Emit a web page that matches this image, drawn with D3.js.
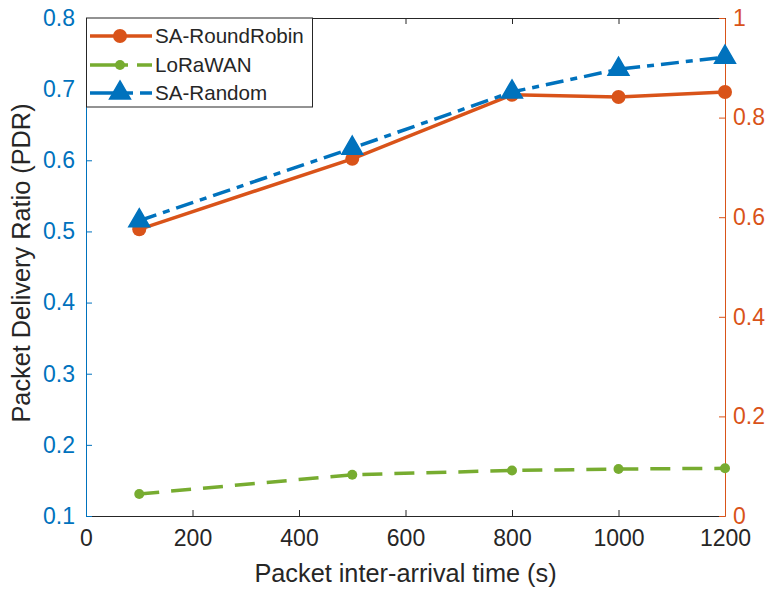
<!DOCTYPE html>
<html><head><meta charset="utf-8">
<script src="https://cdn.jsdelivr.net/npm/d3@7"></script>
<style>body{margin:0;background:#fff;}svg{font-family:"Liberation Sans",Arial,sans-serif;}</style>
</head><body><svg id="c" width="769" height="591"></svg>
<script>
const xValues = [100, 500, 800, 1000, 1200];
const roundRobin = [0.503, 0.602, 0.692, 0.689, 0.696];
const loraWAN = [0.131, 0.158, 0.164, 0.166, 0.167];
const saRandom = [0.515, 0.617, 0.696, 0.728, 0.745];
const xTicks = [0, 200, 400, 600, 800, 1000, 1200];
const yLeftTicks = [0.1, 0.2, 0.3, 0.4, 0.5, 0.6, 0.7, 0.8];
const yRightTicks = [0, 0.2, 0.4, 0.6, 0.8, 1];
const seriesNames = ["SA-RoundRobin", "LoRaWAN", "SA-Random"];

const C_BLUE = "#0072BD", C_ORANGE = "#D95319", C_GREEN = "#77AC30", C_AX = "#262626";
const svg = d3.select("#c");
const L = 86, R = 725, T = 18, B = 516;
const x = d3.scaleLinear().domain([0, 1200]).range([L, R]);
const y = d3.scaleLinear().domain([0.1, 0.8]).range([B, T]);
const y2 = d3.scaleLinear().domain([0, 1]).range([B, T]);
const tk = 6;
const FS = "23px";

// bottom axis
const gx = svg.append("g").attr("transform", `translate(0,${B})`)
  .call(d3.axisBottom(x).tickValues(xTicks).tickSizeInner(-tk).tickSizeOuter(0).tickPadding(14).tickFormat(d3.format("d")));
gx.select(".domain").attr("stroke", C_AX);
gx.selectAll("line").attr("stroke", C_AX);
gx.selectAll("text").attr("fill", C_AX).style("font-size", FS);
// top axis
const gt = svg.append("g").attr("transform", `translate(0,${T})`)
  .call(d3.axisTop(x).tickValues(xTicks).tickSizeInner(-tk).tickSizeOuter(0).tickFormat(""));
gt.select(".domain").attr("stroke", C_AX);
gt.selectAll("line").attr("stroke", C_AX);
// left axis
const gl = svg.append("g").attr("transform", `translate(${L},0)`)
  .call(d3.axisLeft(y).tickValues(yLeftTicks).tickSizeInner(-tk).tickSizeOuter(0).tickPadding(11).tickFormat(d3.format(".1f")));
gl.select(".domain").attr("stroke", C_BLUE);
gl.selectAll("line").attr("stroke", C_BLUE);
gl.selectAll("text").attr("fill", C_BLUE).style("font-size", FS);
// right axis
const gr = svg.append("g").attr("transform", `translate(${R},0)`)
  .call(d3.axisRight(y2).tickValues(yRightTicks).tickSizeInner(-tk).tickSizeOuter(0).tickPadding(8).tickFormat(d => d === 0 || d === 1 ? d3.format("d")(d) : d3.format(".1f")(d)));
gr.select(".domain").attr("stroke", C_ORANGE);
gr.selectAll("line").attr("stroke", C_ORANGE);
gr.selectAll("text").attr("fill", C_ORANGE).style("font-size", FS);

// labels
svg.append("text").attr("x", (L + R) / 2 + 0).attr("y", 582).attr("text-anchor", "middle")
  .attr("fill", C_AX).style("font-size", "25.3px").text("Packet inter-arrival time (s)");
svg.append("text").attr("transform", `translate(30,263) rotate(-90)`).attr("text-anchor", "middle")
  .attr("fill", C_AX).style("font-size", "25.3px").text("Packet Delivery Ratio (PDR)");

const line = d3.line().x((d, i) => x(xValues[i])).y(d => y(d));
const series = [
  {vals: roundRobin, color: C_ORANGE, dash: null, legDash: null, marker: "circle", r: 7},
  {vals: loraWAN, color: C_GREEN, dash: "20,12", legDash: "38,9,20", marker: "dot", r: 5},
  {vals: saRandom, color: C_BLUE, dash: "18,7,7,7", legDash: "43,7,15", marker: "tri", r: 9},
];
const tri = d3.symbol().type(d3.symbolTriangle).size(190);
function marker(g, s, cx, cy) {
  if (s.marker === "tri") {
    g.append("path").attr("d", tri()).attr("transform", `translate(${cx},${cy})`).attr("fill", s.color).attr("stroke", s.color).attr("stroke-width", 1.5);
  } else {
    g.append("circle").attr("cx", cx).attr("cy", cy).attr("r", s.r).attr("fill", s.color);
  }
}
series.forEach(s => {
  const g = svg.append("g");
  g.append("path").attr("d", line(s.vals)).attr("fill", "none").attr("stroke", s.color)
    .attr("stroke-width", 3.5).attr("stroke-dasharray", s.dash);
  s.vals.forEach((v, i) => marker(g, s, x(xValues[i]), y(v)));
});

// legend
const lg = svg.append("g");
lg.append("rect").attr("x", 86.5).attr("y", T).attr("width", 226).attr("height", 89)
  .attr("fill", "#fff").attr("stroke", C_AX).attr("stroke-width", 1);
const rowY = [36, 65, 93];
series.forEach((s, i) => {
  const yy = rowY[i];
  lg.append("line").attr("x1", 90).attr("x2", 152).attr("y1", yy).attr("y2", yy)
    .attr("stroke", s.color).attr("stroke-width", 3.5).attr("stroke-dasharray", s.legDash);
  marker(lg, s, 120, yy);
  lg.append("text").attr("x", 155).attr("y", yy + 7).attr("fill", C_AX).style("font-size", "20.6px").text(seriesNames[i]);
});
</script></body></html>
